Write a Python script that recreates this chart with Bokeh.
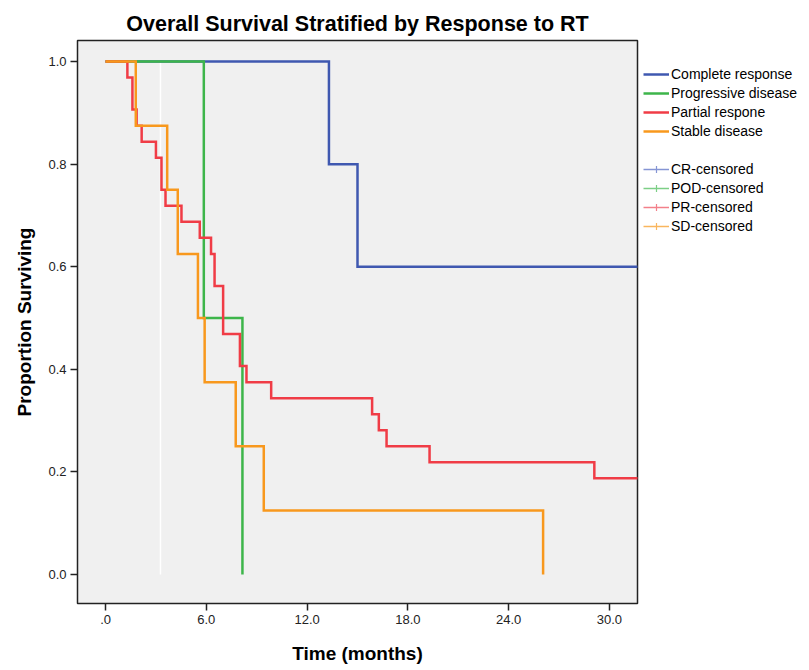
from bokeh.plotting import figure
from bokeh.layouts import row
from bokeh.models import Legend, LegendItem, FixedTicker, NumeralTickFormatter, Range1d
from bokeh.embed import file_html
from bokeh.resources import INLINE

chart_title = "Overall Survival Stratified by Response to RT"
x_label = "Time (months)"
y_label = "Proportion Surviving"
group_labels = ["Complete response", "Progressive disease", "Partial respone", "Stable disease"]
censored_labels = ["CR-censored", "POD-censored", "PR-censored", "SD-censored"]

x_ticks = [0, 6, 12, 18, 24, 30]
y_ticks = [0.0, 0.2, 0.4, 0.6, 0.8, 1.0]

cr_time = [0.0, 13.3, 15.0, 32.0]
cr_surv = [1.0, 0.8, 0.6, 0.6]
pod_time = [0.0, 5.85, 8.15]
pod_surv = [1.0, 0.5, 0.0]
pr_time = [0.0, 1.3, 1.6, 1.85, 2.15, 3.0, 3.33, 3.57, 4.52, 5.61, 6.28, 6.49, 7.0, 8.0,
           8.39, 9.86, 15.87, 16.27, 16.73, 19.29, 29.1, 32.0]
pr_surv = [1.0, 0.96875, 0.90625, 0.875, 0.84375, 0.8125, 0.75, 0.71875, 0.6875, 0.65625,
           0.625, 0.5625, 0.46875, 0.40625, 0.375, 0.34375, 0.3125, 0.28125, 0.25, 0.21875,
           0.1875, 0.1875]
sd_time = [0.0, 1.8, 3.67, 4.3, 5.5, 5.9, 7.75, 9.42, 26.05]
sd_surv = [1.0, 0.875, 0.75, 0.625, 0.5, 0.375, 0.25, 0.125, 0.0]

white_line_time = [3.27]
white_line_low = [0.0]
white_line_high = [1.0]

colors = ["#3f58b0", "#3db54a", "#f03c46", "#f8981d"]
cens_colors = ["#8595d4", "#7ccf86", "#f3808a", "#f9b65e"]
nan = float("nan")

p = figure(width=639, height=670, output_backend="svg", toolbar_location=None,
           x_range=Range1d(-1.67, 31.67), y_range=Range1d(-0.0565, 1.041),
           min_border_left=77, min_border_right=2, min_border_top=40, min_border_bottom=67)

p.title.text = chart_title
p.title.align = "center"
p.title.text_font = "Liberation Sans"
p.title.text_font_size = "21.5px"
p.title.text_font_style = "bold"
p.title.text_color = "#000000"

p.background_fill_color = "#f0f0f0"
p.border_fill_color = "white"
p.outline_line_color = "#222222"
p.outline_line_width = 1.5
p.grid.visible = False

for ax in (p.xaxis[0], p.yaxis[0]):
    ax.axis_line_color = None
    ax.major_tick_in = 0
    ax.major_tick_out = 7
    ax.major_tick_line_color = "#222222"
    ax.major_tick_line_width = 1.5
    ax.minor_tick_line_color = None
    ax.major_label_text_font = "Liberation Sans"
    ax.major_label_text_font_size = "13px"
    ax.major_label_text_color = "#222222"
    ax.axis_label_text_font = "Liberation Sans"
    ax.axis_label_text_font_size = "19px"
    ax.axis_label_text_font_style = "bold"
    ax.axis_label_text_color = "#000000"

p.xaxis[0].ticker = FixedTicker(ticks=x_ticks)
p.xaxis[0].formatter = NumeralTickFormatter(format="0.0")
p.xaxis[0].major_label_overrides = {0: ".0"}
p.xaxis[0].axis_label = x_label
p.xaxis[0].major_label_standoff = 4
p.xaxis[0].axis_label_standoff = 16

p.yaxis[0].ticker = FixedTicker(ticks=y_ticks)
p.yaxis[0].formatter = NumeralTickFormatter(format="0.0")
p.yaxis[0].axis_label = y_label
p.yaxis[0].major_label_standoff = 4
p.yaxis[0].axis_label_standoff = 10

p.segment(x0=white_line_time, y0=white_line_low, x1=white_line_time, y1=white_line_high,
          line_color="white", line_width=1.5)

series = [(cr_time, cr_surv), (pod_time, pod_surv), (pr_time, pr_surv), (sd_time, sd_surv)]
for (t, s), c in zip(series, colors):
    p.step(x=t, y=s, mode="after", line_color=c, line_width=2.5, line_join="miter")

# Legend panel to the right of the plot frame
lf = figure(width=170, height=670, output_backend="svg", toolbar_location=None,
            x_axis_location=None, y_axis_location=None,
            min_border_left=0, min_border_right=0, min_border_top=0, min_border_bottom=0)
lf.outline_line_color = None
lf.grid.visible = False
lf.background_fill_color = "white"
lf.border_fill_color = "white"

items = []
for c, lab in zip(colors, group_labels):
    r = lf.line(x=[nan], y=[nan], line_color=c, line_width=2.5)
    items.append(LegendItem(label=lab, renderers=[r]))

spacer = lf.line(x=[nan], y=[nan], line_alpha=0)
items.append(LegendItem(label=" ", renderers=[spacer]))

for c, lab in zip(cens_colors, censored_labels):
    rl = lf.line(x=[nan], y=[nan], line_color=c, line_width=1.5)
    rs = lf.scatter(x=[nan], y=[nan], marker="cross", size=13, line_color=c, line_width=1.2)
    items.append(LegendItem(label=lab, renderers=[rl, rs]))

legend = Legend(items=items, location=(4, 368))
legend.label_text_font = "Liberation Sans"
legend.label_text_font_size = "14px"
legend.label_text_color = "#000000"
legend.glyph_width = 26
legend.glyph_height = 18
legend.label_height = 18
legend.spacing = 1
legend.padding = 0
legend.margin = 0
legend.label_standoff = 2
legend.border_line_color = None
legend.background_fill_alpha = 0
lf.add_layout(legend, "center")

layout = row(p, lf, spacing=0)

open("out.html", "w").write(file_html(layout, INLINE))
